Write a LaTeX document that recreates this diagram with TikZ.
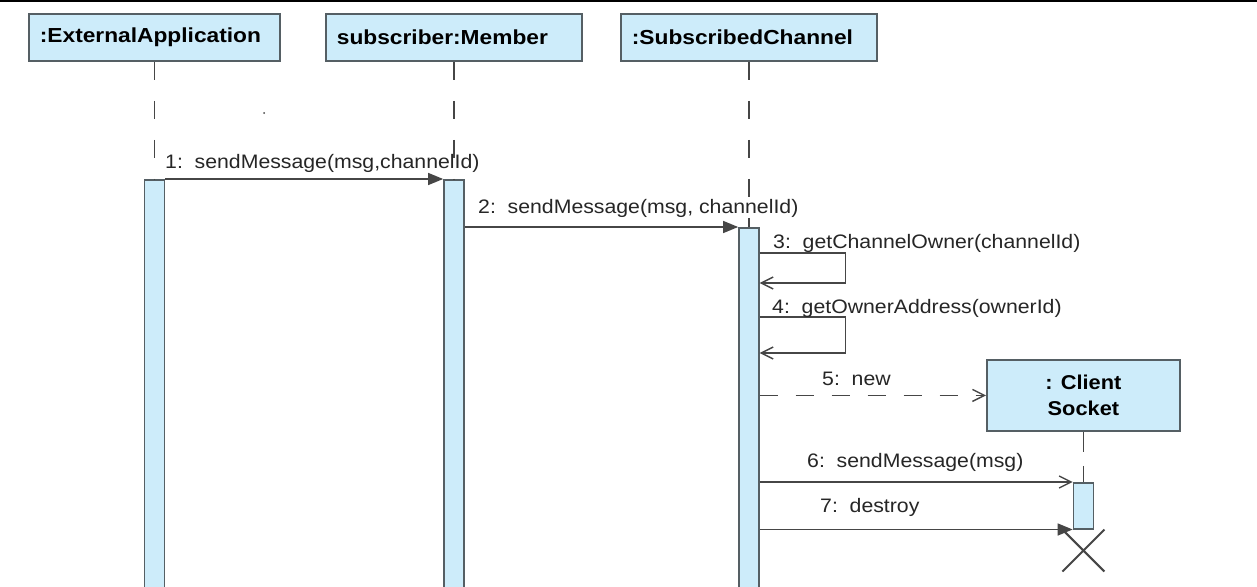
\documentclass[tikz,border=0pt]{standalone}
\usepackage{fontspec}
\newfontfamily\lblfont[FakeStretch=1.09]{Liberation Sans}
\newfontfamily\objfont[FakeStretch=1.12]{Liberation Sans}
\usetikzlibrary{arrows.meta}
\definecolor{objfill}{RGB}{205,236,250}
\definecolor{objline}{RGB}{85,95,100}
\definecolor{msgline}{RGB}{70,70,70}
\begin{document}
\begin{tikzpicture}[x=1pt,y=-1pt,
  objbox/.style={draw=objline, line width=1.8pt, fill=objfill, inner ysep=0pt, inner xsep=11pt,
    anchor=north west, minimum height=47pt, align=left,
    font=\objfont\bfseries\fontsize{20.3}{24}\selectfont},
  newobj/.style={draw=objline, line width=1.8pt, fill=objfill, inner sep=0pt,
    anchor=north west, minimum height=71pt, minimum width=193pt, align=center,
    font=\lblfont\bfseries\fontsize{20}{26}\selectfont},
  actbar/.style={draw=objline, line width=1.5pt, fill=objfill, inner sep=0pt,
    minimum width=20pt, anchor=north},
  lifeline/.style={draw=msgline, line width=1.4pt, dash pattern=on 18pt off 21pt},
  msg/.style={draw=msgline, line width=1.4pt},
  synch/.style={msg, -{Triangle[length=15pt,width=12pt]}},
  reply/.style={msg, -{Straight Barb[length=12pt,width=12pt]}},
  create/.style={msg, dash pattern=on 18pt off 18pt, -{Straight Barb[length=12pt,width=12pt]}},
  lbl/.style={inner sep=0pt, anchor=base west, text=black!85,
    font=\lblfont\fontsize{19.5}{22}\selectfont},
  destroy/.style={draw=msgline, line width=2pt}
]
\useasboundingbox (0,0) rectangle (1257,586);
\clip (0,0) rectangle (1257,586);
\fill[white] (0,0) rectangle (1257,586);
\fill[black] (0,0) rectangle (1257,2);

% objects
\node[objbox, text width=229pt] (ea) at (28,13) {:ExternalApplication};
\node[objbox, text width=234pt] (mb) at (325,13) {subscriber:Member};
\node[objbox, text width=234pt] (sc) at (620,13) {:SubscribedChannel};
\node[newobj] (cs) at (986,359) {: Client\\Socket};

% activation bars
\node[actbar, minimum height=420pt] (b1) at (ea.south |- 0,179) {};
\node[actbar, minimum height=420pt] (b2) at (mb.south |- 0,179) {};
\node[actbar, minimum height=370pt] (b3) at (sc.south |- 0,227) {};
\node[actbar, minimum height=46pt] (b4) at (cs.south |- 0,482) {};

% lifelines
\draw[lifeline] (ea.south) -- (b1.north);
\draw[lifeline] (mb.south) -- (b2.north);
\draw[lifeline] (sc.south) -- (b3.north);
\draw[lifeline, dash pattern=on 20pt off 14pt] (cs.south) -- (b4.north);

% stray dot
\fill[msgline] (264,113) circle (1pt);

% messages
\draw[synch] (b1.north east) -- (b2.north west);
\node[lbl] (l1) at (165,168) {1:\ \ sendMessage(msg,channelId)};

\draw[synch] (b2.east |- b3.north) -- (b3.north west);
\node[lbl] (l2) at (478,213) {2:\ \ sendMessage(msg, channelId)};

\draw[reply] ([yshift=-26pt]b3.north east) -- ++(86,0) -- ++(0,30) -- ++(-86,0);
\node[lbl] (l3) at (773,248) {3:\ \ getChannelOwner(channelId)};

\draw[reply] ([yshift=-90pt]b3.north east) -- ++(86,0) -- ++(0,36) -- ++(-86,0);
\node[lbl] (l4) at (772,313) {4:\ \ getOwnerAddress(ownerId)};

\draw[create] (b3.east |- cs.west) -- (cs.west);
\node[lbl] (l5) at (822,385) {5:\ \ new};

\draw[reply] (b3.east |- b4.north) -- (b4.north west);
\node[lbl] (l6) at (807,467) {6:\ \ sendMessage(msg)};

\draw[synch] (b3.east |- b4.south) -- (b4.south west);
\node[lbl] (l7) at (820,512) {7:\ \ destroy};

% destruction mark
\coordinate (xm) at ([yshift=-21pt]b4.south);
\draw[destroy] ([shift={(-21,-21)}]xm) -- ([shift={(21,21)}]xm)
               ([shift={(-21,21)}]xm) -- ([shift={(21,-21)}]xm);
\end{tikzpicture}
\end{document}
